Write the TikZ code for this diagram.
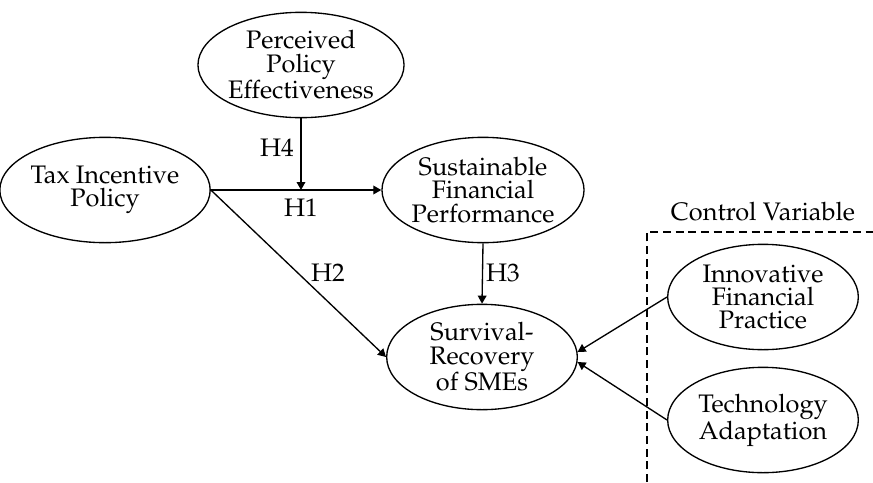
\documentclass[tikz,border=0pt]{standalone}
\usepackage[T1]{fontenc}
\usepackage{mathpazo}
\usetikzlibrary{arrows.meta, shapes.geometric, positioning}

\begin{document}
\begin{tikzpicture}[x=0.75pt, y=-0.75pt,
    var/.style={ellipse, draw, line width=1pt, minimum width=143pt, minimum height=79pt, inner sep=0pt, align=center, font=\fontsize{19}{17.5}\selectfont},
    hyp/.style={font=\fontsize{19}{17.5}\selectfont},
    link/.style={line width=1pt, -{Triangle[length=6pt,width=6.5pt]}}]
  \useasboundingbox (0,0) rectangle (873,482);
  % constructs
  \node[var] (ppe) at (301,65) {Perceived\\Policy\\Effectiveness};
  \node[var] (tax) at (105,190) {Tax Incentive\\Policy};
  \node[var] (sfp) at (483,190) {Sustainable\\Financial\\Performance};
  \node[var] (surv) at (482,357) {Survival-\\Recovery\\of SMEs};
  \node[var] (ifp) at (763,297) {Innovative\\Financial\\Practice};
  \node[var] (tech) at (763,420) {Technology\\Adaptation};
  % control box
  \draw[line width=1pt, dash pattern=on 6pt off 3.5pt] (647,482) -- (647,232) -- (873,232);
  \node[hyp] (ctrl) at (763,212) {Control Variable};
  % paths
  \draw[link] (tax.east) -- (sfp.west);
  \draw[link] (ppe.south) -- (ppe.south |- tax.east);
  \draw[link] (tax.east) -- (surv.west);
  \draw[link] (sfp.south) -- (surv.north);
  \draw[link] (ifp.west) -- (surv.3);
  \draw[link] (tech.west) -- (surv.-3);
  % hypotheses
  \node[hyp] (h1) at (301,208) {H1};
  \node[hyp] (h2) at (328,273) {H2};
  \node[hyp] (h3) at (503,273) {H3};
  \node[hyp] (h4) at (277,148) {H4};
\end{tikzpicture}
\end{document}
